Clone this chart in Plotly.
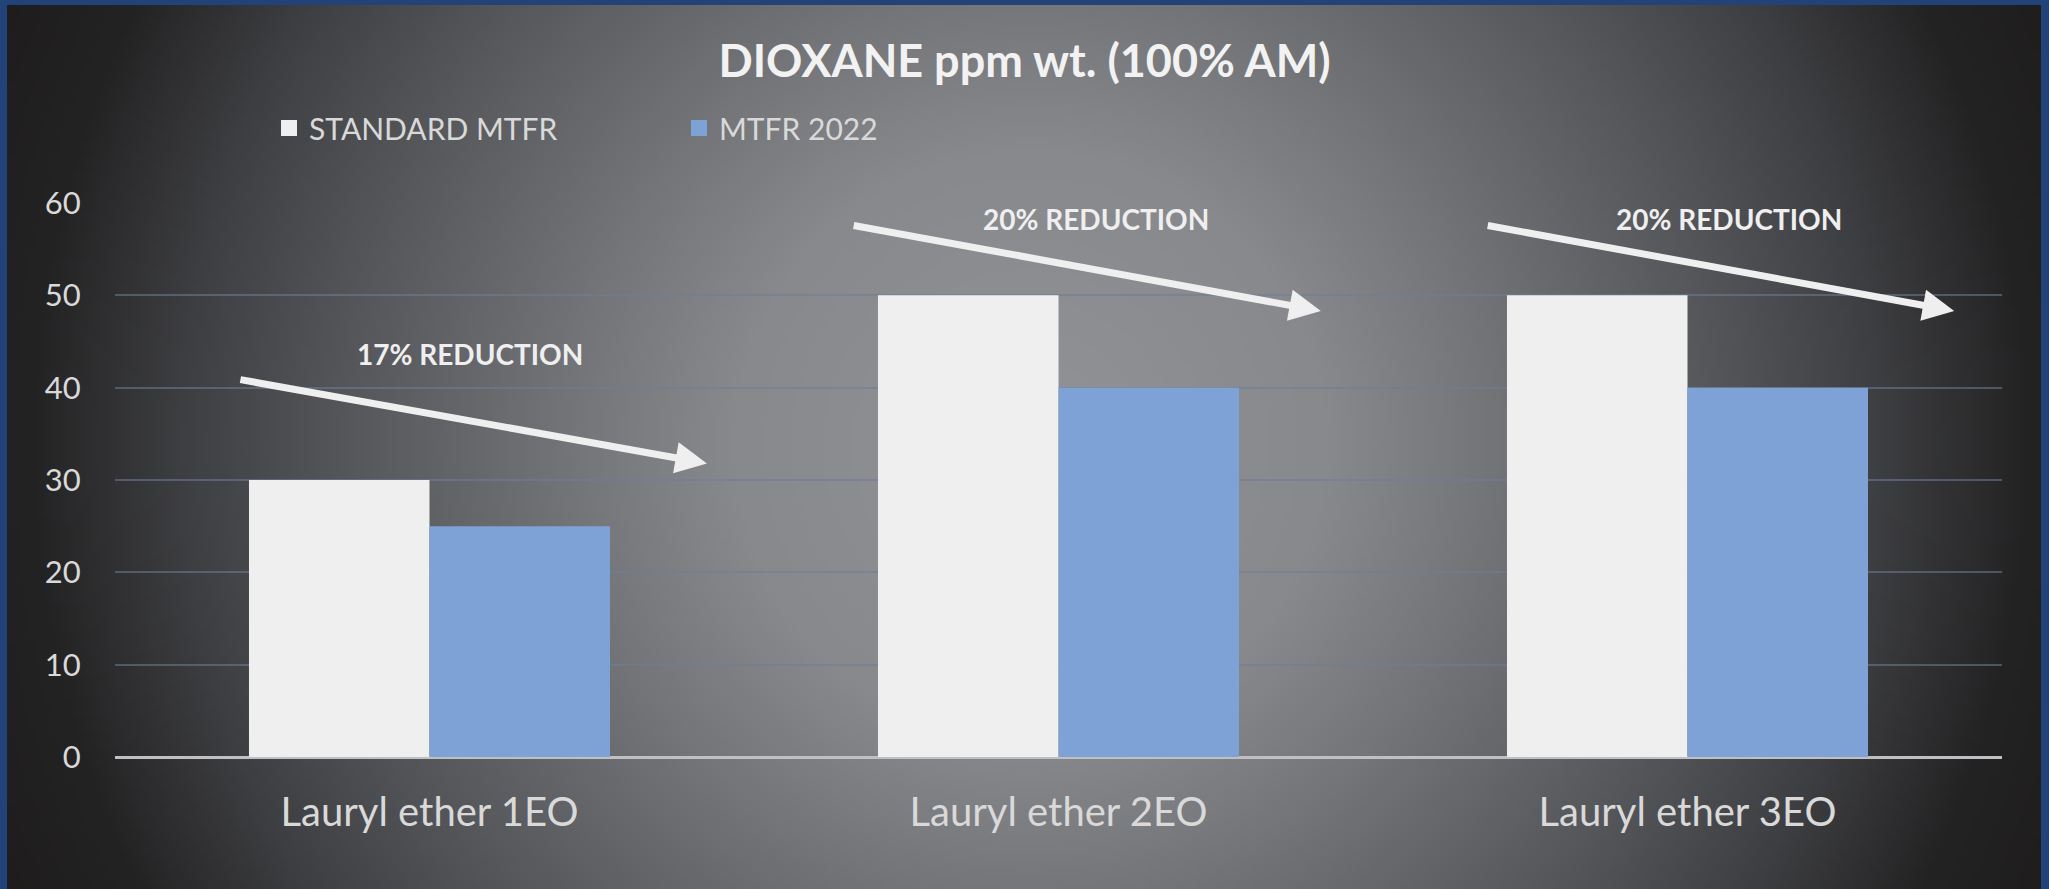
import base64, struct, zlib
import numpy as np
import plotly.graph_objects as go

# ---------------- data ----------------
categories = ["Lauryl ether 1EO", "Lauryl ether 2EO", "Lauryl ether 3EO"]
standard_mtfr = [30, 50, 50]
mtfr_2022 = [25, 40, 40]
series_names = ["STANDARD MTFR", "MTFR 2022"]
reduction_labels = ["17% REDUCTION", "20% REDUCTION", "20% REDUCTION"]
y_ticks = [0, 10, 20, 30, 40, 50, 60]

# ---------------- layout geometry ----------------
W, H = 2049, 889
ML, MR, MT, MB = 115, 47, 203, 132
PW, PH = W - ML - MR, H - MT - MB

# background radial gradient (dark area inside blue frame)
BX0, BY0, BX1, BY1 = 7, 5, 2041, 889
IW, IH = 400, 174
xs = np.linspace(BX0, BX1, IW)
ys = np.linspace(BY0, BY1, IH)
XX, YY = np.meshgrid(xs, ys)
r = np.sqrt((XX - 1030) ** 2 + (YY - 445) ** 2)
stops = [0, 300, 445, 700, 850, 1000, 1150]
Rv = [146, 136, 118, 84, 62, 36, 29]
Gv = [147, 137, 119, 85, 63, 35, 27]
Bv = [151, 141, 123, 89, 66, 36, 26]
img = np.stack([np.interp(r, stops, Rv), np.interp(r, stops, Gv),
                np.interp(r, stops, Bv)], axis=-1).astype(np.uint8)


def png_data_uri(a):
    h, w, _ = a.shape
    raw = b"".join(b"\x00" + a[i].tobytes() for i in range(h))

    def chunk(t, d):
        c = struct.pack(">I", len(d)) + t + d
        return c + struct.pack(">I", zlib.crc32(t + d) & 0xFFFFFFFF)

    png = (b"\x89PNG\r\n\x1a\n" + chunk(b"IHDR", struct.pack(">IIBBBBB", w, h, 8, 2, 0, 0, 0))
           + chunk(b"IDAT", zlib.compress(raw, 9)) + chunk(b"IEND", b""))
    return "data:image/png;base64," + base64.b64encode(png).decode()


def px2paper_x(px):
    return (px - ML) / PW


def px2paper_y(py):
    return (H - MB - py) / PH


FONT = "Lato, 'Open Sans', sans-serif"
WHITE = "#EFEFEF"
BLUE = "#7FA2D6"
TXT = "#D9D9D9"

fig = go.Figure()
fig.add_trace(go.Bar(x=categories, y=standard_mtfr, name=series_names[0], showlegend=False,
                     legendgroup="s0", marker=dict(color=WHITE, line=dict(width=0))))
fig.add_trace(go.Bar(x=categories, y=mtfr_2022, name=series_names[1], showlegend=False,
                     legendgroup="s1", marker=dict(color=BLUE, line=dict(width=0))))
# legend entries with larger square swatches
for nm, col, grp in zip(series_names, [WHITE, BLUE], ["s0", "s1"]):
    fig.add_trace(go.Scatter(x=[None], y=[None], mode="markers", name=nm, legendgroup=grp,
                             marker=dict(symbol="square", size=16, color=col,
                                         line=dict(width=0)),
                             hoverinfo="skip"))

# reduction arrows and labels (positions in data units)
arrow_tail = [(-0.303, 40.9), (0.672, 57.6), (1.680, 57.6)]
arrow_head = [(0.441, 31.8), (1.417, 48.3), (2.424, 48.3)]
label_pos = [(0.064, 43.6), (1.06, 58.3), (2.066, 58.3)]
for (tx, ty), (hx, hy) in zip(arrow_tail, arrow_head):
    fig.add_annotation(x=hx, y=hy, ax=tx, ay=ty, xref="x", yref="y", axref="x", ayref="y",
                       showarrow=True, arrowhead=2, arrowsize=0.9, arrowwidth=7,
                       arrowcolor=WHITE, standoff=0, text="")
for (lx, ly), lab in zip(label_pos, reduction_labels):
    fig.add_annotation(x=lx, y=ly, xref="x", yref="y", text="<b>%s</b>" % lab, showarrow=False,
                       font=dict(family=FONT, size=28, color=WHITE))

fig.update_layout(
    width=W, height=H,
    margin=dict(l=ML, r=MR, t=MT, b=MB),
    paper_bgcolor="#22427A",
    plot_bgcolor="rgba(0,0,0,0)",
    barmode="group", bargap=0.426, bargroupgap=0,
    title=dict(text="<b>DIOXANE ppm wt. (100% AM)</b>", x=0.5, xanchor="center",
               y=1 - 61 / H, yanchor="middle",
               font=dict(family=FONT, size=45, color="#F2F2F2")),
    legend=dict(orientation="h", x=px2paper_x(269), xanchor="left", y=px2paper_y(128),
                yanchor="middle", entrywidth=365, entrywidthmode="pixels",
                font=dict(family=FONT, size=30, color=TXT), bgcolor="rgba(0,0,0,0)",
                itemsizing="trace", itemwidth=30),
    images=[dict(source=png_data_uri(img), xref="paper", yref="paper",
                 x=px2paper_x(BX0), y=px2paper_y(BY0), sizex=(BX1 - BX0) / PW,
                 sizey=(BY1 - BY0) / PH, xanchor="left", yanchor="top",
                 sizing="stretch", layer="below")],
    showlegend=True,
)
fig.update_xaxes(showgrid=False, showline=False, zeroline=False, ticks="",
                 tickfont=dict(family=FONT, size=40, color=TXT), ticklabelstandoff=28)
fig.update_yaxes(range=[0, 60], tickvals=y_ticks, showgrid=True,
                 gridcolor="rgba(110,125,155,0.55)", gridwidth=1.5,
                 zeroline=True, zerolinecolor="#BFBFC4", zerolinewidth=2.5,
                 showline=False, ticks="outside", ticklen=27, tickcolor="rgba(0,0,0,0)",
                 tickfont=dict(family=FONT, size=31, color=TXT))

fig.write_html("out.html", config={"displayModeBar": False},
               post_script="document.body.style.margin='0px';")
